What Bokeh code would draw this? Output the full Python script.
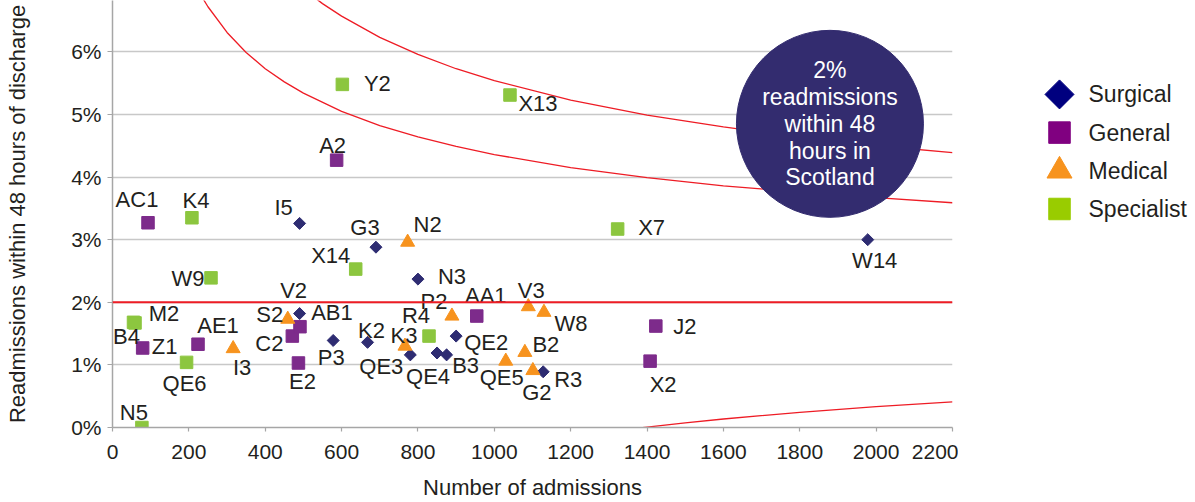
import numpy as np
from bokeh.plotting import figure
from bokeh.models import (ColumnDataSource, Range1d, FixedTicker,
                          PrintfTickFormatter, Span)
from bokeh.layouts import row
from bokeh.embed import file_html
from bokeh.resources import INLINE
from bokeh.core.properties import value

# ---------------- data (x = admissions, y = % readmitted in 48h) ----------------
surgical_names = ["I5", "G3", "N3", "V2", "P3", "K2", "QE3", "QE4", "B3", "QE2", "R3", "W14"]
surgical_x = [490, 690, 800, 490, 578, 668, 780, 850, 875, 900, 1128, 1978]
surgical_y = [3.26, 2.88, 2.37, 1.82, 1.39, 1.36, 1.16, 1.19, 1.16, 1.46, 0.89, 3.00]

general_names = ["AC1", "A2", "Z1", "AE1", "C2", "AB1", "E2", "AA1", "J2", "X2"]
general_x = [93, 587, 79, 224, 471, 491, 487, 954, 1423, 1408]
general_y = [3.27, 4.27, 1.27, 1.33, 1.46, 1.61, 1.03, 1.78, 1.62, 1.06]

medical_names = ["S2", "I3", "N2", "K3", "P2", "V3", "W8", "B2", "QE5", "G2"]
medical_x = [459, 316, 773, 766, 889, 1089, 1130, 1080, 1030, 1101]
medical_y = [1.73, 1.26, 2.96, 1.30, 1.78, 1.93, 1.84, 1.20, 1.06, 0.91]

specialist_names = ["Y2", "X13", "K4", "W9", "X14", "B4", "M2", "QE6", "N5", "R4", "X7"]
specialist_x = [602, 1041, 208, 258, 637, 55, 59, 194, 77, 829, 1323]
specialist_y = [5.48, 5.31, 3.35, 2.39, 2.53, 1.68, 1.67, 1.04, 0.0, 1.46, 3.17]

categories = ["Surgical", "General", "Medical", "Specialist"]

# Scotland average and funnel limits
scotland_rate = 2.0
inner_upper_n = [230, 250, 300, 350, 400, 450, 500, 600, 700, 800, 900, 1000, 1200, 1400, 1600, 1800, 2000, 2200]
inner_upper_y = [6.92, 6.72, 6.31, 5.99, 5.73, 5.52, 5.34, 5.05, 4.82, 4.64, 4.49, 4.36, 4.15, 3.99, 3.86, 3.76, 3.67, 3.59]
outer_upper_n = [520, 550, 600, 700, 800, 900, 1000, 1200, 1400, 1600, 1800, 2000, 2200]
outer_upper_y = [6.91, 6.77, 6.57, 6.23, 5.96, 5.73, 5.54, 5.23, 4.99, 4.80, 4.64, 4.50, 4.39]
inner_lower_n = [1330, 1400, 1500, 1600, 1800, 2000, 2200]
inner_lower_y = [-0.04, 0.007, 0.074, 0.136, 0.242, 0.332, 0.41]

callout_x = [1879]
callout_y = [4.85]
callout_text = ["2%\nreadmissions\nwithin 48\nhours in\nScotland"]

x_ticks = list(range(0, 2201, 200))
y_ticks = [0, 1, 2, 3, 4, 5, 6]

x_title = "Number of admissions"
y_title = "Readmissions within 48 hours of discharge"

# label offsets (pixels) relative to each marker
label_offsets = {
    "I5": (-16, -16), "G3": (-11, -20), "N3": (34, -3), "V2": (-6, -23), "P3": (-2, 17),
    "K2": (4, -12), "QE3": (-29, 12), "QE4": (-9, 24), "B3": (19, 11), "QE2": (30, 6),
    "R3": (25, 8), "W14": (7, 21),
    "AC1": (-11, -23), "A2": (-4, -15), "Z1": (22, -1), "AE1": (20, -19), "C2": (-23, 7),
    "AB1": (32, -14), "E2": (4, 18), "AA1": (9, -21), "J2": (29, 0), "X2": (13, 23),
    "S2": (-18, -5), "I3": (9, 19), "N2": (20, -18), "K3": (-1, -11), "P2": (-18, -15),
    "V3": (3, -16), "W8": (27, 11), "B2": (21, -8), "QE5": (-4, 16), "G2": (4, 22),
    "Y2": (35, -1), "X13": (28, 8), "K4": (4, -17), "W9": (-23, 1), "X14": (-25, -14),
    "B4": (-7, 14), "M2": (29, -9), "QE6": (-2, 21), "N5": (-8, -15), "R4": (-13, -21),
    "X7": (34, -2),
}

FONT = "Liberation Sans"
TXT = "#231f20"
RED = "#ee1c25"
plot_colors = {"Surgical": "#2e2c72", "General": "#7d2b8b", "Medical": "#f7931e", "Specialist": "#8cc63f"}
legend_colors = {"Surgical": "#00007f", "General": "#800080", "Medical": "#f7931e", "Specialist": "#99cc00"}

H = 502
BORDER_BOTTOM = 73
y_range = Range1d(0, 6.82)

# ---------------- main figure ----------------
p = figure(width=958, height=H, x_range=Range1d(0, 2200), y_range=y_range,
           toolbar_location=None, output_backend="svg",
           min_border_left=112, min_border_right=6, min_border_top=0,
           min_border_bottom=BORDER_BOTTOM)
p.outline_line_color = None
p.background_fill_color = "white"
p.border_fill_color = "white"
p.xgrid.grid_line_color = None
p.ygrid.grid_line_color = "#c8c8c8"
p.ygrid.grid_line_width = 1.5

p.xaxis.ticker = FixedTicker(ticks=x_ticks)
p.yaxis.ticker = FixedTicker(ticks=y_ticks)
p.yaxis.formatter = PrintfTickFormatter(format="%d%%")
p.xaxis.axis_label = x_title
p.yaxis.axis_label = y_title
for ax in (p.xaxis[0], p.yaxis[0]):
    ax.axis_line_color = "#a6a6a6"
    ax.axis_line_width = 1.5
    ax.major_tick_line_color = "#a6a6a6"
    ax.major_tick_line_width = 1.2
    ax.major_tick_in = 0
    ax.minor_tick_line_color = None
    ax.major_label_text_font = FONT
    ax.major_label_text_color = TXT
    ax.axis_label_text_font = FONT
    ax.axis_label_text_font_style = "normal"
    ax.axis_label_text_color = TXT
p.xaxis.major_tick_out = 4
p.xaxis.major_label_standoff = 13
p.xaxis.major_label_text_font_size = "21px"
p.xaxis.axis_label_text_font_size = "22px"
p.xaxis.axis_label_standoff = 13
p.yaxis.major_tick_out = 5
p.yaxis.major_label_standoff = 6
p.yaxis.major_label_text_font_size = "21px"
p.yaxis.axis_label_text_font_size = "22px"
p.yaxis.axis_label_standoff = 38

# funnel lines
p.add_layout(Span(location=scotland_rate, dimension="width", line_color=RED, line_width=2))
p.line(inner_upper_n, inner_upper_y, line_color=RED, line_width=1.3)
p.line(outer_upper_n, outer_upper_y, line_color=RED, line_width=1.3)
p.line(inner_lower_n, inner_lower_y, line_color=RED, line_width=1.3)

# markers
p.scatter(surgical_x, surgical_y, marker="square", angle=np.pi / 4, size=8.5,
          color=plot_colors["Surgical"])
p.scatter(general_x, general_y, marker="square", size=12.5, color=plot_colors["General"])
p.scatter(medical_x, medical_y, marker="triangle", size=14, color=plot_colors["Medical"])
p.scatter(specialist_x, specialist_y, marker="square", size=12.5, color=plot_colors["Specialist"])

# callout circle
p.scatter(callout_x, callout_y, marker="circle", size=187, color="#332c6f")
p.text(callout_x, callout_y, text=callout_text, text_color="white",
       text_font=value(FONT), text_font_size="23px", text_align="center",
       text_baseline="middle", text_line_height=1.03)

# point labels
names = surgical_names + general_names + medical_names + specialist_names
lx = surgical_x + general_x + medical_x + specialist_x
ly = surgical_y + general_y + medical_y + specialist_y
src = ColumnDataSource(dict(x=lx, y=ly, name=names,
                            dx=[label_offsets[n][0] for n in names],
                            dy=[label_offsets[n][1] for n in names]))
p.text(x="x", y="y", text="name", x_offset="dx", y_offset="dy", source=src,
       text_font=value(FONT), text_font_size="22px", text_color=TXT,
       text_align="center", text_baseline="middle")

# ---------------- legend figure (shares the y scale of the chart) ----------------
LW = 1195 - 958
leg = figure(width=LW, height=H, x_range=Range1d(0, LW), y_range=y_range,
             toolbar_location=None, output_backend="svg",
             x_axis_location=None, y_axis_location=None,
             min_border_left=0, min_border_right=0, min_border_top=0,
             min_border_bottom=BORDER_BOTTOM)
leg.outline_line_color = None
leg.grid.visible = False
legend_top, legend_step = 5.32, 0.61
marker_x, text_x = 101, 130
ys = [legend_top - i * legend_step for i in range(len(categories))]
marker_specs = {"Surgical": ("square", np.pi / 4, 20.5), "General": ("square", 0, 21.5),
                "Medical": ("triangle", 0, 25), "Specialist": ("square", 0, 21.5)}
for cat, yy in zip(categories, ys):
    mk, ang, sz = marker_specs[cat]
    leg.scatter([marker_x], [yy], marker=mk, angle=ang, size=sz, color=legend_colors[cat])
leg.text([text_x] * len(categories), ys, text=categories, text_font=value(FONT),
         text_font_size="23px", text_color=TXT, text_align="left", text_baseline="middle")

layout = row(p, leg)
open("out.html", "w").write(file_html(layout, INLINE))
